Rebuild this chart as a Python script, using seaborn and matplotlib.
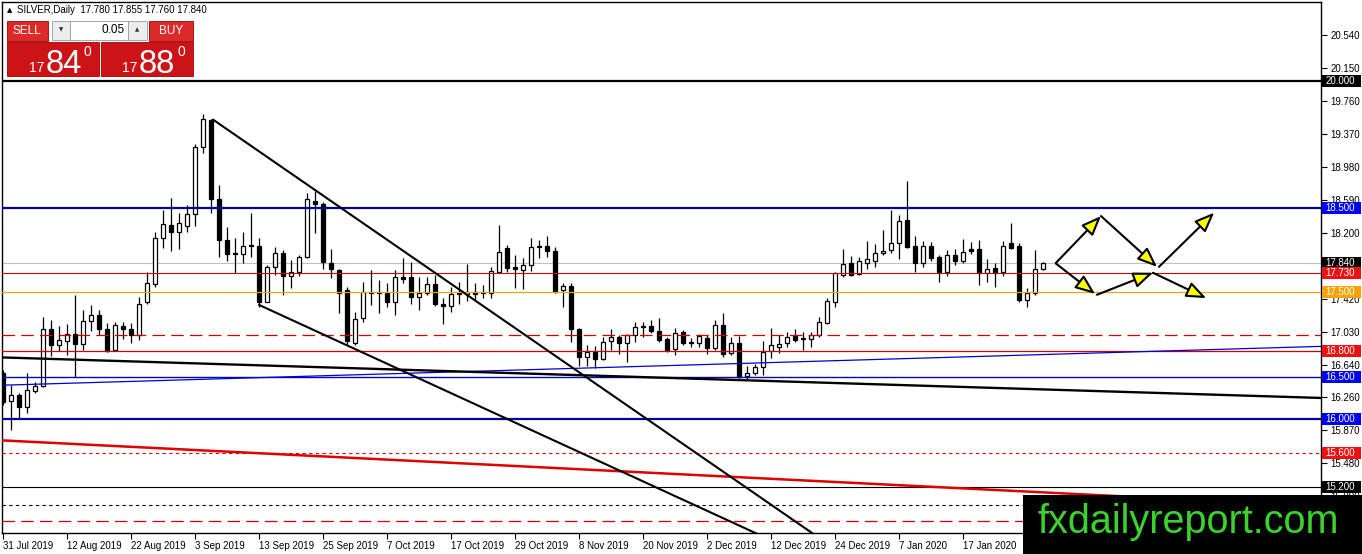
import numpy as np
import pandas as pd
import seaborn as sns
import matplotlib.pyplot as plt
from matplotlib.patches import Rectangle
from matplotlib.transforms import blended_transform_factory

sns.set_style("white")
plt.rcParams['font.family'] = ['Liberation Sans', 'DejaVu Sans']

# Daily OHLC, 31 Jul 2019 onward (one value per bar)
opens = [16.54, 16.21, 16.29, 16.14, 16.33, 16.39, 17.07, 16.88, 16.92, 17.01,
         16.89, 17.16, 17.23, 17.07, 16.82, 17.10, 17.07, 17.00, 17.39, 17.60,
         18.14, 18.30, 18.21, 18.28, 18.43, 19.22, 19.54, 18.60, 18.12, 17.96,
         17.95, 18.06, 18.05, 17.39, 17.80, 17.96, 17.69, 17.74, 17.92, 18.58,
         18.54, 17.85, 17.76, 17.53, 16.90, 17.20, 17.50, 17.49, 17.49, 17.39,
         17.68, 17.68, 17.44, 17.49, 17.60, 17.36, 17.34, 17.48, 17.48, 17.50,
         17.49, 17.49, 17.74, 18.02, 17.80, 17.76, 17.82, 18.05, 18.05, 17.99,
         17.53, 17.57, 17.07, 16.74, 16.79, 16.71, 16.92, 16.97, 16.90, 17.00,
         17.09, 17.10, 17.04, 16.95, 16.83, 17.03, 16.91, 16.90, 16.96, 16.84,
         17.11, 16.78, 16.90, 16.51, 16.55, 16.62, 16.81, 16.85, 16.90, 16.98,
         16.95, 16.95, 17.00, 17.14, 17.39, 17.70, 17.85, 17.72, 17.85, 17.87,
         17.96, 18.00, 18.08, 18.35, 18.05, 17.85, 18.05, 17.92, 17.74, 17.94,
         17.87, 18.01, 18.01, 17.73, 17.79, 17.74, 18.08, 18.05, 17.41, 17.49,
         17.78]
highs = [16.58, 16.40, 16.31, 16.54, 16.44, 17.21, 17.17, 17.10, 17.13, 17.47,
         17.29, 17.35, 17.29, 17.14, 17.15, 17.15, 17.14, 17.44, 17.74, 18.21,
         18.47, 18.61, 18.44, 18.53, 19.25, 19.61, 19.55, 18.77, 18.27, 18.14,
         18.21, 18.44, 18.14, 17.82, 18.04, 18.00, 17.88, 17.94, 18.67, 18.70,
         18.57, 18.01, 17.78, 17.56, 17.27, 17.62, 17.76, 17.65, 17.61, 17.76,
         17.91, 17.86, 17.68, 17.68, 17.70, 17.43, 17.56, 17.62, 17.83, 17.61,
         17.59, 17.80, 18.30, 18.06, 17.94, 17.91, 18.14, 18.12, 18.17, 18.04,
         17.61, 17.61, 17.08, 16.88, 16.87, 16.97, 17.07, 17.00, 17.01, 17.15,
         17.15, 17.17, 17.20, 16.97, 17.08, 17.05, 16.96, 17.01, 17.00, 17.17,
         17.26, 16.97, 16.98, 16.63, 16.65, 16.92, 17.08, 17.00, 17.03, 17.07,
         17.03, 17.03, 17.21, 17.43, 17.74, 18.01, 17.93, 17.92, 18.11, 18.07,
         18.24, 18.47, 18.41, 18.82, 18.17, 18.11, 18.09, 17.94, 18.00, 18.01,
         18.13, 18.09, 18.12, 17.89, 17.85, 18.11, 18.32, 18.08, 17.55, 18.00,
         17.855]
lows = [16.17, 15.87, 16.01, 16.07, 16.31, 16.38, 16.75, 16.81, 16.76, 16.50,
        16.82, 17.04, 17.00, 16.79, 16.81, 16.95, 16.90, 16.94, 17.36, 17.56,
        18.02, 17.99, 18.01, 18.21, 18.28, 19.15, 18.44, 17.92, 17.87, 17.73,
        17.85, 17.92, 17.33, 17.38, 17.70, 17.47, 17.55, 17.69, 17.91, 18.20,
        17.78, 17.67, 17.25, 16.88, 16.88, 17.15, 17.35, 17.25, 17.33, 17.23,
        17.61, 17.36, 17.29, 17.47, 17.34, 17.13, 17.27, 17.36, 17.40, 17.40,
        17.43, 17.43, 17.73, 17.74, 17.55, 17.54, 17.75, 17.91, 17.92, 17.49,
        17.33, 16.91, 16.63, 16.63, 16.61, 16.70, 16.82, 16.77, 16.68, 16.91,
        16.97, 17.02, 16.91, 16.79, 16.76, 16.88, 16.85, 16.85, 16.77, 16.82,
        16.74, 16.76, 16.49, 16.48, 16.52, 16.52, 16.72, 16.78, 16.85, 16.91,
        16.82, 16.85, 16.97, 17.13, 17.33, 17.68, 17.69, 17.70, 17.78, 17.80,
        17.94, 17.96, 17.89, 18.02, 17.74, 17.80, 17.87, 17.62, 17.69, 17.82,
        17.85, 17.95, 17.59, 17.62, 17.56, 17.69, 18.01, 17.39, 17.33, 17.47,
        17.76]
closes = [16.20, 16.28, 16.14, 16.35, 16.39, 17.07, 16.88, 16.94, 17.01, 16.89,
          17.16, 17.23, 17.07, 16.81, 17.11, 17.07, 17.00, 17.36, 17.61, 18.14,
          18.31, 18.21, 18.32, 18.43, 19.22, 19.55, 18.60, 18.12, 17.95, 17.95,
          18.05, 18.05, 17.39, 17.80, 17.96, 17.69, 17.74, 17.92, 18.60, 18.54,
          17.86, 17.78, 17.49, 16.92, 17.18, 17.50, 17.49, 17.50, 17.39, 17.68,
          17.66, 17.44, 17.49, 17.60, 17.36, 17.34, 17.48, 17.49, 17.50, 17.48,
          17.50, 17.75, 17.98, 17.79, 17.78, 17.82, 18.04, 18.04, 17.99, 17.50,
          17.57, 17.07, 16.74, 16.79, 16.71, 16.91, 16.97, 16.90, 17.00, 17.09,
          17.10, 17.04, 16.94, 16.82, 17.02, 16.90, 16.90, 16.98, 16.84, 17.11,
          16.77, 16.90, 16.50, 16.55, 16.62, 16.79, 16.88, 16.89, 16.97, 16.94,
          16.96, 17.00, 17.15, 17.40, 17.73, 17.83, 17.70, 17.87, 17.89, 17.96,
          17.99, 18.08, 18.34, 18.04, 17.85, 18.05, 17.91, 17.74, 17.94, 17.87,
          17.98, 17.99, 17.73, 17.78, 17.73, 18.05, 18.02, 17.41, 17.49, 17.78,
          17.84]

date_labels = ['31 Jul 2019', '12 Aug 2019', '22 Aug 2019', '3 Sep 2019',
               '13 Sep 2019', '25 Sep 2019', '7 Oct 2019', '17 Oct 2019',
               '29 Oct 2019', '8 Nov 2019', '20 Nov 2019', '2 Dec 2019',
               '12 Dec 2019', '24 Dec 2019', '7 Jan 2020', '17 Jan 2020']
date_bars = list(range(0, 8 * len(date_labels), 8))

# price scale ticks; 17.810 sits under the bid tag and is not legible
price_ticks = [20.54, 20.15, 19.76, 19.37, 18.98, 18.59, 18.20, 17.81,
               17.42, 17.03, 16.64, 16.26, 15.87, 15.48, 15.09]
hidden_ticks = [17.81]

# horizontal levels drawn on the chart
level_prices = [20.00, 18.50, 17.73, 17.50, 17.00, 16.80, 16.50, 16.00,
                15.60, 15.20, 14.99, 14.80]
bid_price = 17.84
ask_price = 17.88
lot_size = 0.05

# price tags on the right scale
tag_prices = [20.00, 18.50, 17.84, 17.73, 17.50, 16.80, 16.50, 16.00, 15.60, 15.20]

# trend lines (bar index, price)
trend_x0 = [-0.4, -0.4, -0.4, 26.25, 32.0]
trend_y0 = [16.40, 16.73, 15.75, 19.54, 17.35]
trend_x1 = [164.8, 164.8, 164.8, 101.5, 94.6]
trend_y1 = [16.86, 16.25, 14.97, 14.63, 14.63]

# projected path arrows
arrow_x0 = [131.6, 137.25, 144.5, 131.6, 136.75, 143.75]
arrow_y0 = [17.845, 18.40, 17.80, 17.84, 17.47, 17.73]
arrow_x1 = [137.25, 144.25, 151.4, 136.5, 143.75, 150.4]
arrow_y1 = [18.40, 17.80, 18.44, 17.48, 17.73, 17.43]

W, H = 1362, 554
fig = plt.figure(figsize=(W / 100, H / 100), dpi=100)
ax = fig.add_axes([2 / W, 21 / H, 1319 / W, 531 / H])
ax.set_facecolor('white')

df = pd.DataFrame({'open': opens, 'high': highs, 'low': lows, 'close': closes})
df['bar'] = np.arange(len(df))
df['up'] = df['close'] >= df['open']
df['body_lo'] = df[['open', 'close']].min(axis=1)
df['body_h'] = (df['close'] - df['open']).abs().clip(lower=0.006)

# bid line behind the candles
ax.axhline(bid_price, color='#c0c0c0', lw=0.8, zorder=1)

# candles
ax.vlines(df['bar'], df['low'], df['high'], color='black', lw=0.9, zorder=3)
bull = df[df['up']]
bear = df[~df['up']]
ax.bar(bull['bar'], bull['body_h'], bottom=bull['body_lo'], width=0.62,
       color='white', edgecolor='black', linewidth=0.9, zorder=4)
ax.bar(bear['bar'], bear['body_h'], bottom=bear['body_lo'], width=0.62,
       color='black', edgecolor='black', linewidth=0.9, zorder=4)

# horizontal levels
level_style = [
    dict(color='black', lw=1.6),
    dict(color='#0000a0', lw=1.6),
    dict(color='#d00000', lw=0.8),
    dict(color='#e8a800', lw=0.9),
    dict(color='#d00000', lw=0.9, dashes=(10, 5)),
    dict(color='#d00000', lw=0.9),
    dict(color='#0000c8', lw=1.0),
    dict(color='#0000a0', lw=1.6),
    dict(color='#d00000', lw=0.8, dashes=(3, 3)),
    dict(color='black', lw=0.8),
    dict(color='black', lw=0.8, dashes=(3, 3)),
    dict(color='#d00000', lw=0.9, dashes=(10, 5)),
]
for price, st in zip(level_prices, level_style):
    ax.axhline(price, zorder=5, **st)

# trend lines
trend_style = [
    dict(color='#0000d0', lw=0.9),
    dict(color='black', lw=1.7),
    dict(color='#e00000', lw=1.8),
    dict(color='black', lw=1.5),
    dict(color='black', lw=1.5),
]
for x0, y0, x1, y1, st in zip(trend_x0, trend_y0, trend_x1, trend_y1, trend_style):
    sns.lineplot(x=[x0, x1], y=[y0, y1], ax=ax, zorder=5, **st)

# arrows
for x0, y0, x1, y1 in zip(arrow_x0, arrow_y0, arrow_x1, arrow_y1):
    ax.annotate('', xy=(x1, y1), xytext=(x0, y0),
                arrowprops=dict(arrowstyle='-|>,head_length=0.6,head_width=0.24',
                                mutation_scale=20, fc='#ffff00', ec='black',
                                lw=1.5, shrinkA=0, shrinkB=0), zorder=6)

ax.set_xlim(-0.125, 164.75)
ax.set_ylim(14.654, 20.93)

# axes, ticks
for sp in ax.spines.values():
    sp.set_color('black')
    sp.set_linewidth(1.0)
ax.set_xticks(date_bars)
ax.set_xticklabels(date_labels, ha='left')
ax.tick_params(axis='x', bottom=True, direction='out', length=4, width=0.8,
               pad=1.5, labelsize=7, colors='black')
ax.yaxis.tick_right()
ax.set_yticks(price_ticks)
ax.set_yticklabels(['' if v in hidden_ticks else f'{v:.3f}' for v in price_ticks])
ax.tick_params(axis='y', right=True, left=False, direction='out', length=4,
               width=0.8, pad=3, labelsize=7, colors='black')
ax.set_xlabel('')
ax.set_ylabel('')

# price tags
tag_colors = ['black', '#0000f0', 'black', '#ee1111', '#f5a300',
              '#ee1111', '#0000f0', '#0000f0', '#ee1111', 'black']
trans = blended_transform_factory(ax.transAxes, ax.transData)
tag_w = 39 / 1319
tag_h = 12 / 84.6
for price, c in zip(tag_prices, tag_colors):
    ax.add_patch(Rectangle((1320 / 1319, price - tag_h / 2), tag_w, tag_h,
                           transform=trans, fc=c, ec='none', clip_on=False, zorder=9))
    ax.text(1323.5 / 1319, price, f'{price:.3f}', transform=trans, ha='left',
            va='center', fontsize=7, color='white', clip_on=False, zorder=10)


def fig_rect(x0, y0, x1, y1, **kw):
    fig.add_artist(Rectangle((x0 / W, 1 - y1 / H), (x1 - x0) / W, (y1 - y0) / H,
                             transform=fig.transFigure, **kw))


def fig_text(x, y, s, **kw):
    fig.text(x / W, 1 - y / H, s, **kw)


# header line
fig_text(7, 10, '\u25b2', fontsize=5, va='center', ha='left', color='black',
         family='DejaVu Sans')
fig_text(17, 10, f'SILVER,Daily  {opens[-1]:.3f} {highs[-1]:.3f} {lows[-1]:.3f} {closes[-1]:.3f}',
         fontsize=7, va='center', ha='left', color='black')

# one-click trading panel
red = '#cc1418'
red_top = '#dc2a2a'
fig_rect(7, 21, 48, 41, fc=red_top, ec='#a00000', lw=0.6)
fig_text(27, 31, 'SELL', fontsize=8.5, color='white', ha='center', va='center')
fig_rect(149, 21, 193, 41, fc=red_top, ec='#a00000', lw=0.6)
fig_text(171, 31, 'BUY', fontsize=8.5, color='white', ha='center', va='center')
fig_rect(52, 21, 70, 40, fc='#ececec', ec='#9a9a9a', lw=0.6)
fig_text(61, 30, '\u25bc', fontsize=4, color='#303030', ha='center', va='center',
         family='DejaVu Sans')
fig_rect(70, 21, 128, 40, fc='white', ec='#9a9a9a', lw=0.6)
fig_text(125, 30, f'{lot_size:.2f}', fontsize=8.5, color='black', ha='right', va='center')
fig_rect(128, 21, 147, 40, fc='#ececec', ec='#9a9a9a', lw=0.6)
fig_text(137.5, 30, '\u25b2', fontsize=4, color='#303030', ha='center', va='center',
         family='DejaVu Sans')
fig_rect(7, 42, 99, 76, fc=red, ec='#a00000', lw=0.6)
fig_rect(101, 42, 193, 76, fc=red, ec='#a00000', lw=0.6)

for px0, price in [(29, bid_price), (122, ask_price)]:
    s = f'{price:.3f}'
    big_fig, small_fig, tail = s[:2], s[3:5], s[5]
    fig_text(px0, 72, big_fig, fontsize=10, color='white', ha='left', va='baseline')
    fig_text(px0 + 17, 73, small_fig, fontsize=23.5, color='white', ha='left', va='baseline')
    fig_text(px0 + 55, 56, tail, fontsize=10, color='white', ha='left', va='baseline')

# watermark
fig_rect(1023, 495, 1362, 554, fc='black', ec='none')
fig_text(1038, 533, 'fxdailyreport.com', fontsize=28.5, color='#3cd22d',
         ha='left', va='baseline')

fig.savefig('out.png', dpi=100)
